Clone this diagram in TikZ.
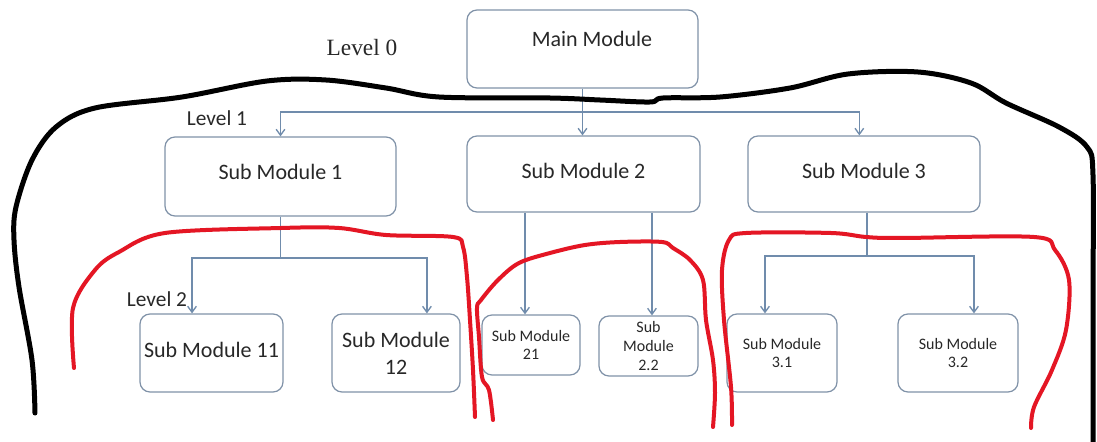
\documentclass[tikz,border=0pt]{standalone}
\usepackage{fontspec}
\setmainfont{Carlito}
\newfontfamily\lvlserif{Liberation Serif}
\usetikzlibrary{arrows.meta}
\definecolor{conncol}{RGB}{112,140,172}
\definecolor{boxcol}{RGB}{128,146,168}
\definecolor{txtcol}{RGB}{40,40,40}
\definecolor{markred}{RGB}{228,22,36}
\tikzset{
  box/.style={draw=boxcol, line width=0.9pt, rounded corners=7.5pt, fill=white, inner sep=0pt, align=center, text=txtcol},
  bigtxt/.style={font=\fontsize{16.5}{20.25}\selectfont, text=txtcol, inner sep=0pt, align=center},
  smalltxt/.style={font=\fontsize{12}{14}\selectfont},
  lvltxt/.style={font=\fontsize{16}{19}\selectfont, text=txtcol, inner sep=0pt},
  conn/.style={draw=conncol, line width=1.1pt},
  arr/.style={conn, -{Straight Barb[length=4.5pt, width=6.5pt, line width=1pt]}},
  blackmark/.style={draw=black, line width=3.75pt, line cap=round, line join=round},
  redmark/.style={draw=markred, line width=3pt, line cap=round, line join=round}
}
\begin{document}
\begin{tikzpicture}[x=0.75pt, y=-0.75pt]
\useasboundingbox (0,0) rectangle (1097,442);
\fill[white] (0,0) rectangle (1097,442);

% boxes
\node[box, minimum width=173.25pt, minimum height=58.5pt] (main) at (582.5,49) {};
\node[bigtxt] (maintxt) at (592,39) {Main Module};
\node[box, bigtxt, draw=boxcol, text depth=7pt, minimum width=173.25pt, minimum height=59.25pt] (sm1) at (280.5,176.5) {Sub Module 1};
\node[box, bigtxt, draw=boxcol, text depth=4.5pt, minimum width=174.75pt, minimum height=57pt] (sm2) at (583.5,174) {Sub Module 2};
\node[box, bigtxt, draw=boxcol, text depth=4.5pt, minimum width=174pt, minimum height=57pt] (sm3) at (864,174) {Sub Module 3};

\node[box, bigtxt, draw=boxcol, text depth=4pt, minimum width=107.25pt, minimum height=58.5pt] (sm11) at (211.5,353) {Sub Module 11};
\node[box, bigtxt, draw=boxcol, minimum width=96pt, minimum height=58.5pt] (sm12) at (396,353) {Sub Module\\12};
\node[box, smalltxt, minimum width=73.5pt, minimum height=45pt] (sm21) at (531,345) {Sub Module\\21};
\node[box, smalltxt, minimum width=74.25pt, minimum height=45pt] (sm22) at (648.5,346) {Sub\\Module\\2.2};
\node[box, smalltxt, minimum width=82.5pt, minimum height=58.5pt] (sm31) at (782,353) {Sub Module\\3.1};
\node[box, smalltxt, minimum width=90pt, minimum height=58.5pt] (sm32) at (958,353) {Sub Module\\3.2};

% level labels
\node[font=\lvlserif\fontsize{17.5}{20}\selectfont, text=txtcol, inner sep=0pt] (lvl0) at (362,48) {Level 0};
\node[lvltxt] (lvl1) at (217,118) {Level 1};
\node[lvltxt] (lvl2) at (157,299) {Level 2};

% connectors level 0 -> 1
\coordinate (b0) at (582.5,112);
\draw[arr] (main.south) -- (main.south |- sm2.north);
\draw[arr] (b0) -| (sm1.north);
\draw[arr] (b0) -| ([xshift=-3.5pt]sm3.north);

% level 1 -> 2
\coordinate (j1) at (280.5,258);
\draw[conn] (sm1.south) -- (j1);
\draw[arr] (j1) -| ([xshift=-14.6pt]sm11.north);
\draw[arr] (j1) -| ([xshift=23.2pt]sm12.north);

\draw[arr] ([xshift=-4.5pt]sm21.north |- sm2.south) -- ([xshift=-4.5pt]sm21.north);
\draw[arr] ([xshift=2.6pt]sm22.north |- sm2.south) -- ([xshift=2.6pt]sm22.north);

\coordinate (j3) at (867,256);
\draw[conn] (j3 |- sm3.south) -- (j3);
\draw[arr] (j3) -| ([xshift=-12.75pt]sm31.north);
\draw[arr] (j3) -| ([xshift=12pt]sm32.north);

% hand-drawn black outline
\draw[blackmark] plot[smooth, tension=0.55] coordinates {
 (35,413) (32,360) (19,287) (14,240) (16,207) (32,160) (56,127) (95,108)
 (182,97) (267,81) (326,80) (386,88) (439,97) (550,98) (600,100) (650,102)
 (663,98) (720,97) (790,88) (848,74) (918,72) (971,83) (1006,103) (1059,127)
 (1087,147) (1093,175) (1093,300) (1093,442)};

% red outlines
\draw[redmark] plot[smooth, tension=0.55] coordinates {
 (74,368) (73,308) (95,270) (119,252) (165,233) (281,228) (339,228) (386,235)
 (453,237) (463,247) (467,277) (470,320) (473,370) (475,417)};
\draw[redmark] plot[smooth, tension=0.55] coordinates {
 (493,420) (489,390) (482,377) (479,337) (477,308) (481,300) (498,280) (519,263)
 (550,253) (585,245) (620,242) (662,242) (673,248) (690,260) (703,280) (706,320)
 (713,360) (715,393) (713,427)};
\draw[redmark] plot[smooth, tension=0.55] coordinates {
 (732,425) (731,387) (724,320) (722,270) (729,240) (746,233) (831,233) (866,237)
 (901,238) (1034,237) (1055,250) (1069,280) (1066,330) (1052,370) (1034,407) (1031,428)};
\end{tikzpicture}
\end{document}
